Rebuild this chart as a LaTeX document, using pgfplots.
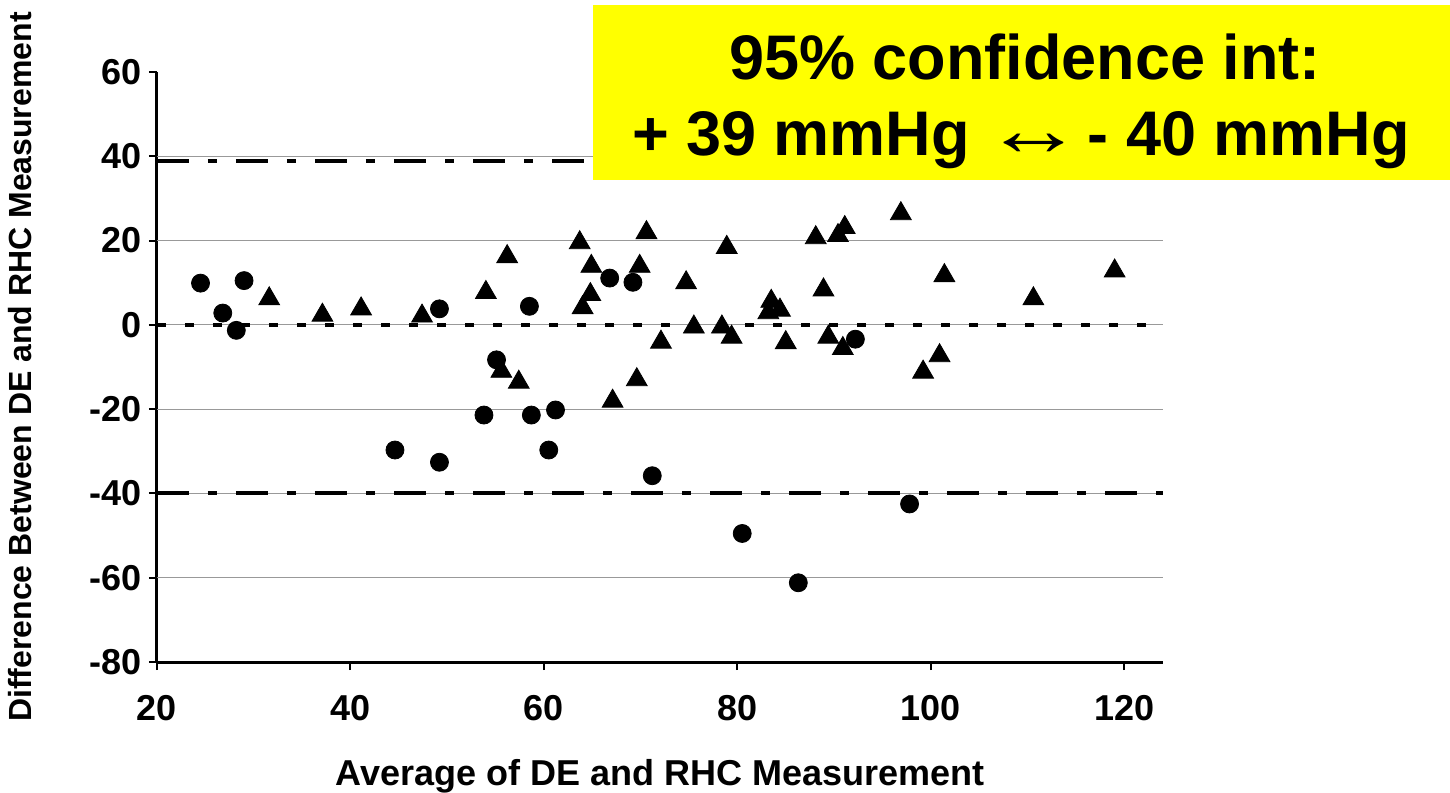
\documentclass[border=0pt]{standalone}
\usepackage{pgfplots}
\pgfplotsset{compat=1.18}
\usepackage{fontspec}
\setmainfont{Liberation Sans}
\definecolor{boxyellow}{RGB}{255,255,0}

\begin{document}
\begin{tikzpicture}
\useasboundingbox (-78.5pt,-65pt) rectangle (646.5pt,331pt);
\begin{axis}[
    at={(0,0)}, anchor=south west,
    scale only axis,
    width=503pt, height=295pt,
    xmin=20, xmax=124,
    ymin=-80, ymax=60,
    xtick={20,40,...,120},
    ytick={-80,-60,...,60},
    axis lines=left,
    axis line style={-, line width=1.5pt},
    tick align=outside,
    major tick length=4pt,
    tick style={black, line width=1pt},
    /pgf/number format/assume math mode=true,
    ticklabel style={font=\bfseries\fontsize{18}{18}\selectfont},
    xticklabel style={yshift=-9pt},
    extra y ticks={-60,-40,-20,0,20,40},
    extra y tick labels={},
    extra y tick style={grid=major, major tick length=0pt},
    major grid style={gray!80, line width=0.6pt},
    xlabel={Average of DE and RHC Measurement},
    xlabel style={at={(axis description cs:0.5,-0.2085)}, anchor=base,
        font=\bfseries\fontsize{18}{18}\selectfont},
    ylabel={Difference Between DE and RHC Measurement},
    ylabel style={at={(axis description cs:-0.136,0.5)}, anchor=center,
        font=\bfseries\fontsize{16}{16}\selectfont},
]
% limits of agreement and mean difference
\addplot[black, line width=2pt, dash pattern=on 16pt off 9.5pt on 4.5pt off 9.5pt]
    coordinates {(20,39) (124,39)};
\addplot[black, line width=2pt, dash pattern=on 16pt off 9.5pt on 4.5pt off 9.5pt]
    coordinates {(20,-40) (124,-40)};
\addplot[black, line width=2pt, dash pattern=on 4.5pt off 9.5pt]
    coordinates {(20,0) (124,0)};

% circles
\addplot[only marks, mark=*, mark size=4.5pt, black] coordinates {
    (24.5,9.9) (26.8,2.8) (28.2,-1.3) (29.0,10.5) (44.6,-29.7)
    (49.2,3.8) (49.2,-32.6) (53.8,-21.4) (55.1,-8.3) (58.5,4.4)
    (58.7,-21.4) (60.5,-29.7) (61.2,-20.2) (66.8,11.1) (69.2,10.1)
    (71.2,-35.8) (80.5,-49.5) (86.3,-61.2) (92.2,-3.4) (97.8,-42.5)
};

% triangles
\addplot[only marks, mark=triangle*, mark size=6pt, black,
    mark options={yshift=-1.5pt}] coordinates {
    (31.6,6.9) (37.1,3.0) (41.1,4.5) (47.4,2.8) (54.0,8.4)
    (55.6,-10.3) (56.2,16.9) (57.4,-12.9) (63.7,20.2) (64.0,4.8)
    (64.8,7.9) (64.9,14.6) (67.1,-17.4) (69.6,-12.3) (69.9,14.6)
    (70.6,22.6) (72.1,-3.4) (74.7,10.7) (75.5,0.2) (78.4,0.2)
    (78.9,19.1) (79.4,-2.2) (83.2,3.6) (83.5,6.3) (84.4,4.2)
    (85.0,-3.5) (88.1,21.4) (88.9,9.0) (89.4,-2.2) (90.4,21.9)
    (90.9,-4.9) (91.1,23.8) (96.9,27.1) (99.2,-10.5) (100.9,-6.6)
    (101.4,12.4) (110.6,6.9) (119.0,13.5)
};
\end{axis}

% annotation box
\fill[boxyellow] (218pt,241pt) rectangle (646.5pt,328.5pt);
\node[anchor=base, inner sep=0pt, font=\bfseries\fontsize{31.5}{32}\selectfont]
    at (434pt,291pt) {95\% confidence int:};
\node[anchor=base, inner sep=0pt, font=\bfseries\fontsize{31.5}{32}\selectfont]
    at (432pt,253pt) {+ 39 mmHg\kern-2pt\ {\mdseries\scalebox{1.6}[1.2]{↔}}\kern-7pt\ - 40 mmHg};
\end{tikzpicture}
\end{document}
